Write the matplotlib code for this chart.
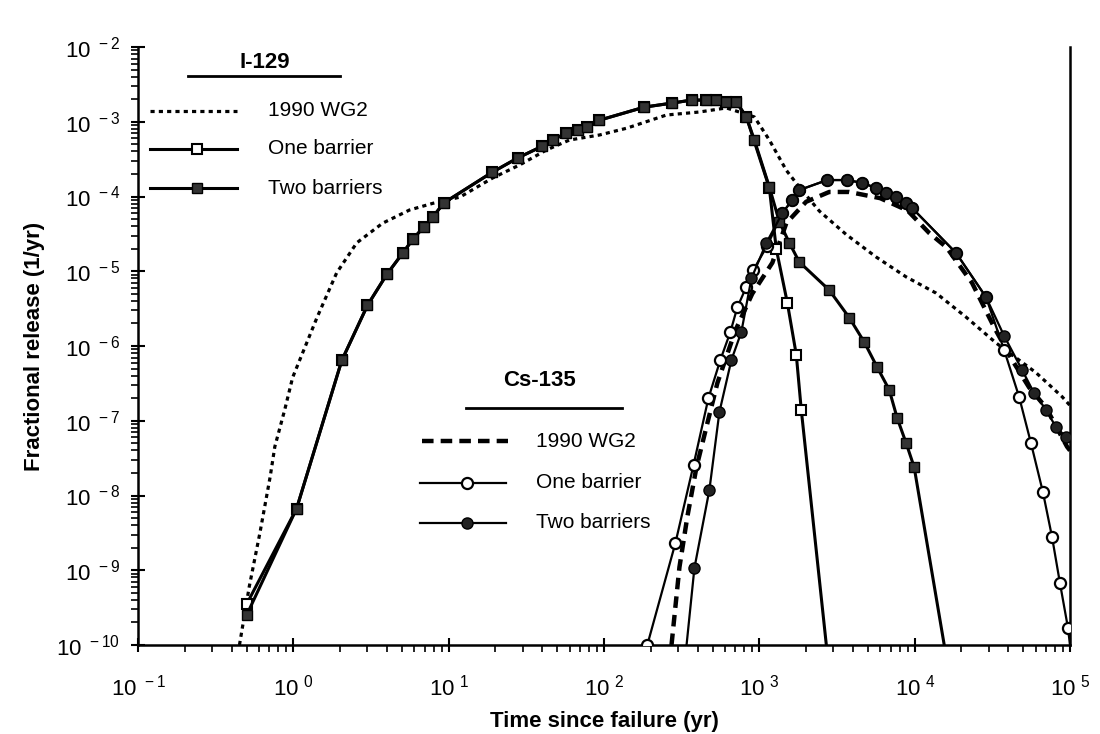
import math
import matplotlib
matplotlib.use('Agg')
import matplotlib.pyplot as plt
from matplotlib.lines import Line2D
from matplotlib.ticker import FuncFormatter, FixedLocator, LogLocator, NullFormatter

plt.rcParams['font.family'] = ['Liberation Sans', 'DejaVu Sans']
plt.rcParams['mathtext.fontset'] = 'custom'
plt.rcParams['mathtext.rm'] = 'Liberation Sans'
plt.rcParams['mathtext.default'] = 'regular'

# I-129
i_wg2_t = [0.45, 0.52, 0.61, 0.71, 0.76, 0.88, 0.99, 1.42, 1.9, 2.56, 3.76, 5.6, 7.9,
           11.8, 19.2, 28.6, 42.7, 60, 93.5, 140, 252, 411, 613, 743, 929, 1160, 1492,
           1808, 2432, 3625, 5650, 8817, 13740, 21400, 33400, 60400, 88900, 100000]
i_wg2_r = [1e-10, 6e-10, 3.2e-9, 1.8e-8, 4.5e-8, 1.4e-7, 3.8e-7, 2.4e-6, 9.5e-6, 2.4e-5,
           4.4e-5, 6.6e-5, 8.1e-5, 9.8e-5, 1.77e-4, 2.64e-4, 4.2e-4, 5.7e-4, 6.65e-4,
           8.2e-4, 1.23e-3, 1.35e-3, 1.53e-3, 1.35e-3, 1.16e-3, 5.7e-4, 2.24e-4, 1.34e-4,
           6.4e-5, 3.1e-5, 1.55e-5, 8.4e-6, 5.1e-6, 2.44e-6, 1.1e-6, 4.4e-7, 2.1e-7, 1.6e-7]

i_one_t = [0.5, 1.05, 2.05, 3.0, 4.0, 5.06, 5.9, 6.9, 7.9, 9.3, 19, 28, 40, 47, 57, 68, 78,
           93.5, 182, 276, 366, 456, 529, 613, 711, 825, 1160, 1285, 1514, 1730, 1862, 2700]
i_one_r = [3.5e-10, 6.7e-9, 6.4e-7, 3.5e-6, 9.1e-6, 1.75e-5, 2.7e-5, 3.9e-5, 5.3e-5, 8.2e-5,
           2.1e-4, 3.3e-4, 4.7e-4, 5.7e-4, 7.1e-4, 7.8e-4, 8.5e-4, 1.05e-3, 1.57e-3, 1.78e-3,
           1.95e-3, 1.95e-3, 1.95e-3, 1.84e-3, 1.84e-3, 1.16e-3, 1.3e-4, 2.0e-5, 3.8e-6,
           7.6e-7, 1.4e-7, 1e-10]

i_two_t = [0.5, 1.05, 2.05, 3.0, 4.0, 5.06, 5.9, 6.9, 7.9, 9.3, 19, 28, 40, 47, 57, 68, 78,
           93.5, 182, 276, 366, 456, 529, 613, 711, 825, 929, 1160, 1345, 1560, 1808, 2818,
           3790, 4735, 5737, 6855, 7713, 8817, 9924, 15500]
i_two_r = [2.5e-10, 6.7e-9, 6.4e-7, 3.5e-6, 9.1e-6, 1.75e-5, 2.7e-5, 3.9e-5, 5.3e-5, 8.2e-5,
           2.1e-4, 3.3e-4, 4.7e-4, 5.7e-4, 7.1e-4, 7.8e-4, 8.5e-4, 1.05e-3, 1.57e-3, 1.78e-3,
           1.95e-3, 1.95e-3, 1.95e-3, 1.84e-3, 1.84e-3, 1.16e-3, 5.7e-4, 1.34e-4, 4.6e-5,
           2.4e-5, 1.33e-5, 5.6e-6, 2.4e-6, 1.13e-6, 5.2e-7, 2.6e-7, 1.09e-7, 5.0e-8, 2.4e-8,
           1e-10]

# Cs-135
c_wg2_t = [272, 306, 344, 394, 456, 537, 700, 900, 1213, 1492, 2000, 2818, 3790, 6000,
           9000, 12400, 16000, 23400, 32400, 42400, 54500, 70100, 95700, 100000]
c_wg2_r = [1e-10, 1.1e-9, 5.2e-9, 2.4e-8, 8.2e-8, 3.2e-7, 1.6e-6, 5e-6, 1.3e-5, 4.4e-5,
           8.5e-5, 1.15e-4, 1.15e-4, 9.5e-5, 6.5e-5, 3.25e-5, 2.1e-5, 7e-6, 1.8e-6, 6.5e-7,
           2.8e-7, 1.5e-7, 4.5e-8, 4e-8]

c_one_t = [190, 288, 377, 470, 561, 651, 722, 825, 915, 1125, 1406, 1631, 1808, 2735, 3680,
           4595, 5650, 6560, 7600, 8820, 9640, 18500, 28800, 37700, 47000, 56100, 67000,
           76600, 86200, 97000, 100000]
c_one_r = [1e-10, 2.3e-9, 2.56e-8, 2e-7, 6.5e-7, 1.54e-6, 3.3e-6, 6.2e-6, 1.04e-5, 2.2e-5,
           6e-5, 9e-5, 1.22e-4, 1.66e-4, 1.66e-4, 1.52e-4, 1.3e-4, 1.11e-4, 9.8e-5, 8.2e-5,
           7e-5, 1.75e-5, 4.5e-6, 8.8e-7, 2.1e-7, 5e-8, 1.1e-8, 2.8e-9, 6.7e-10, 1.7e-10,
           1e-10]

c_two_t = [340, 382, 477, 553, 661, 766, 889, 1110, 1406, 1631, 1808, 2735, 3680, 4595,
           5650, 6560, 7600, 8820, 9640, 18500, 28800, 37700, 49100, 58700, 70100, 81300,
           94200]
c_two_r = [1e-10, 1.07e-9, 1.19e-8, 1.3e-7, 6.5e-7, 1.54e-6, 8e-6, 2.4e-5, 6e-5, 9e-5,
           1.22e-4, 1.66e-4, 1.66e-4, 1.52e-4, 1.3e-4, 1.11e-4, 9.8e-5, 8.2e-5, 7e-5, 1.75e-5,
           4.5e-6, 1.36e-6, 4.8e-7, 2.35e-7, 1.4e-7, 8.2e-8, 6.1e-8]

x_decades = [0.1, 1, 10, 100, 1e3, 1e4, 1e5]
y_decades = [1e-10, 1e-9, 1e-8, 1e-7, 1e-6, 1e-5, 1e-4, 1e-3, 1e-2]

W, H = 1100, 734
fig = plt.figure(figsize=(11, 7.34), dpi=100)
ax = fig.add_axes([138 / W, 1 - 645 / H, (1070 - 138) / W, (645 - 47) / H])

dot = (0, (1.3, 1.3))
dash = (0, (2.6, 1.6))

ax.plot(i_wg2_t, i_wg2_r, color='k', lw=2.3, ls=dot, zorder=2)
ax.plot(i_one_t, i_one_r, color='k', lw=2.2, marker='s', ms=7, mfc='white', mec='k',
        mew=1.5, markevery=slice(0, -1), zorder=3)
ax.plot(i_two_t, i_two_r, color='k', lw=2.2, marker='s', ms=7, mfc='#333333', mec='k',
        mew=1.0, markevery=slice(0, -1), zorder=4)

ax.plot(c_wg2_t, c_wg2_r, color='k', lw=3.2, ls=dash, zorder=2)
ax.plot(c_one_t, c_one_r, color='k', lw=1.6, marker='o', ms=8, mfc='white', mec='k',
        mew=1.6, markevery=slice(0, -1), zorder=3)
ax.plot(c_two_t, c_two_r, color='k', lw=1.6, marker='o', ms=8, mfc='#222222', mec='k',
        mew=1.0, markevery=slice(1, None), zorder=4)

ax.set_xscale('log')
ax.set_yscale('log')
ax.set_xlim(0.1, 1e5)
ax.set_ylim(1e-10, 1e-2)
ax.xaxis.set_major_locator(FixedLocator(x_decades))
ax.yaxis.set_major_locator(FixedLocator(y_decades))
ax.xaxis.set_minor_locator(LogLocator(base=10, subs=range(2, 10), numticks=20))
ax.yaxis.set_minor_locator(LogLocator(base=10, subs=range(2, 10), numticks=20))
ax.xaxis.set_minor_formatter(NullFormatter())
ax.yaxis.set_minor_formatter(NullFormatter())
pow_fmt = FuncFormatter(lambda v, p: r'10$^{\ %d}$' % round(math.log10(v)))
ax.xaxis.set_major_formatter(pow_fmt)
ax.yaxis.set_major_formatter(pow_fmt)

ax.spines['top'].set_visible(False)
for s in ['left', 'bottom', 'right']:
    ax.spines[s].set_linewidth(1.8)
ax.tick_params(which='major', direction='inout', length=10, width=1.5, labelsize=16)
ax.tick_params(axis='x', which='major', pad=16)
ax.tick_params(axis='y', which='major', pad=8)
ax.tick_params(which='minor', direction='out', length=5, width=1.2)
ax.tick_params(axis='y', which='both', right=False)

ax.set_xlabel('Time since failure (yr)', fontsize=16, fontweight='bold', labelpad=8)
ax.set_ylabel('Fractional release (1/yr)', fontsize=16, fontweight='bold', labelpad=8)


def fx(px):
    return px / W


def fy(py):
    return 1 - py / H


# I-129 legend
fig.text(fx(265), fy(63), 'I-129', fontsize=16, fontweight='bold', ha='center', va='center')
fig.add_artist(Line2D([fx(188), fx(340)], [fy(76), fy(76)], color='k', lw=2))
fig.add_artist(Line2D([fx(150), fx(237)], [fy(111), fy(111)], color='k', lw=2.3, ls=dot))
fig.add_artist(Line2D([fx(150), fx(237)], [fy(149), fy(149)], color='k', lw=2.2))
fig.add_artist(Line2D([fx(197)], [fy(149)], color='k', marker='s', ms=7, mfc='white',
                      mec='k', mew=1.5))
fig.add_artist(Line2D([fx(150), fx(237)], [fy(188), fy(188)], color='k', lw=2.2))
fig.add_artist(Line2D([fx(197)], [fy(188)], color='k', marker='s', ms=7, mfc='#333333',
                      mec='k', mew=1.0))
for yy, txt in [(111, '1990 WG2'), (149, 'One barrier'), (188, 'Two barriers')]:
    fig.text(fx(268), fy(yy), txt, fontsize=15, va='center')

# Cs-135 legend
fig.text(fx(540), fy(381), 'Cs-135', fontsize=16, fontweight='bold', ha='center',
         va='center')
fig.add_artist(Line2D([fx(466), fx(622)], [fy(408), fy(408)], color='k', lw=2))
fig.add_artist(Line2D([fx(422), fx(508)], [fy(441), fy(441)], color='k', lw=3.2, ls=dash))
fig.add_artist(Line2D([fx(420), fx(506)], [fy(483), fy(483)], color='k', lw=1.6))
fig.add_artist(Line2D([fx(467)], [fy(483)], color='k', marker='o', ms=8, mfc='white',
                      mec='k', mew=1.6))
fig.add_artist(Line2D([fx(420), fx(506)], [fy(523), fy(523)], color='k', lw=1.6))
fig.add_artist(Line2D([fx(467)], [fy(523)], color='k', marker='o', ms=8, mfc='#222222',
                      mec='k', mew=1.0))
for yy, txt in [(441, '1990 WG2'), (483, 'One barrier'), (523, 'Two barriers')]:
    fig.text(fx(536), fy(yy), txt, fontsize=15, va='center')

fig.savefig('out.png', dpi=100)
